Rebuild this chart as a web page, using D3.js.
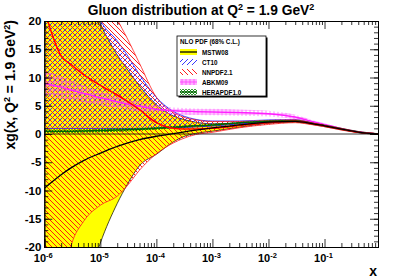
<!DOCTYPE html>
<head>
<meta charset="utf-8">
<title>Gluon</title>
<style>
  body { margin: 0; background: #fff; }
  text { font-family: "Liberation Sans", Arial, sans-serif; font-weight: bold; }
</style>
</head>
<body>
<script src="https://cdn.jsdelivr.net/npm/d3@7"></script>
<script>
// x grid shared by all bands
var xs = [1e-6, 2e-6, 3e-6, 5e-6, 1e-5, 2e-5, 3e-5, 5e-5, 1e-4, 2e-4, 3e-4, 5e-4,
          1e-3, 3e-3, 1e-2, 3e-2, 6e-2, 0.1, 0.2, 0.4, 0.9];

var mstwHi  = [50, 40, 34, 27, 19.5, 14, 11.5, 8.5, 5.2, 3.2, 2.6, 2.1, 1.8, 1.9, 2.3, 2.4, 2.0, 1.6, 1.0, 0.45, 0.05];
var mstwMid = [-9.6, -7.2, -6.0, -4.7, -3.4, -2.2, -1.6, -1.0, -0.4, 0.05, 0.35, 0.7, 1.1, 1.6, 2.1, 2.25, 1.85, 1.45, 0.88, 0.35, 0.02];
var mstwLo  = [-60, -45, -38, -29, -19.3, -12.3, -9.0, -5.6, -3.6, -1.4, -0.5, 0.1, 0.5, 1.2, 1.9, 2.1, 1.7, 1.3, 0.75, 0.3, 0.0];

var ct10Hi  = [60, 45, 38, 29, 20.2, 16.5, 14, 10.5, 6.5, 4.0, 3.2, 2.6, 2.3, 2.3, 2.5, 2.55, 2.0, 1.6, 0.95, 0.35, 0.03];
var ct10Lo  = [1.0, 1.0, 1.0, 1.0, 1.0, 1.0, 1.0, 1.0, 1.05, 1.1, 1.15, 1.25, 1.4, 1.8, 2.1, 2.25, 1.85, 1.45, 0.85, 0.3, 0.0];

var nnHi  = [80, 60, 50, 38, 27, 20.3, 17, 12.5, 6.5, 3.8, 3.0, 2.5, 2.2, 2.2, 2.4, 2.5, 2.0, 1.6, 1.0, 0.4, 0.05];
var nnMid = [22, 13.8, 12.3, 10.5, 8.6, 6.9, 5.8, 4.3, 2.0, 1.0, 0.9, 0.9, 1.0, 1.5, 2.0, 2.25, 1.85, 1.45, 0.85, 0.3, 0.0];
var nnLo  = [-45, -28, -19.8, -15.5, -12.6, -11, -9.2, -6.4, -3.5, -1.6, -0.8, -0.1, 0.3, 1.1, 1.7, 2.0, 1.65, 1.3, 0.7, 0.25, 0.0];

var abkmHi  = [11.3, 10.2, 9.5, 8.6, 7.6, 6.7, 6.2, 5.7, 5.1, 4.7, 4.6, 4.5, 4.45, 4.35, 4.1, 3.4, 2.5, 1.9, 1.05, 0.4, 0.03];
var abkmMid = [9.0, 8.3, 7.8, 7.2, 6.4, 5.7, 5.3, 4.9, 4.4, 4.1, 4.0, 3.95, 3.9, 3.8, 3.6, 3.0, 2.2, 1.7, 0.95, 0.35, 0.02];
var abkmLo  = [6.7, 6.3, 6.0, 5.6, 5.1, 4.6, 4.3, 4.0, 3.7, 3.5, 3.4, 3.35, 3.3, 3.25, 3.1, 2.6, 2.0, 1.5, 0.85, 0.3, 0.0];

var heraHi  = [0.8, 0.8, 0.8, 0.85, 0.9, 1.0, 1.05, 1.1, 1.25, 1.4, 1.5, 1.6, 1.8, 2.1, 2.35, 2.4, 1.95, 1.55, 0.95, 0.35, 0.02];
var heraMid = [0.5, 0.5, 0.5, 0.55, 0.6, 0.7, 0.75, 0.85, 1.0, 1.2, 1.3, 1.45, 1.6, 2.0, 2.25, 2.35, 1.9, 1.5, 0.9, 0.32, 0.01];
var heraLo  = [0.2, 0.2, 0.2, 0.25, 0.3, 0.4, 0.45, 0.55, 0.75, 1.0, 1.1, 1.3, 1.45, 1.85, 2.15, 2.25, 1.85, 1.45, 0.85, 0.3, 0.0];

var legendNames = ["MSTW08", "CT10", "NNPDF2.1", "ABKM09", "HERAPDF1.0"];
var xTickExp = [-6, -5, -4, -3, -2, -1];
var yTicks = [-20, -15, -10, -5, 0, 5, 10, 15, 20];

var W = 407, H = 278;
var pL = 44.3, pR = 378, pT = 21, pB = 247;

var x = d3.scaleLog().domain([1e-6, 0.9]).range([pL, pR]);
var y = d3.scaleLinear().domain([-20, 20]).range([pB, pT]);

var svg = d3.select("body").append("svg")
    .attr("width", W).attr("height", H);

var defs = svg.append("defs");
defs.append("clipPath").attr("id", "plot")
    .append("rect").attr("x", pL).attr("y", pT)
    .attr("width", pR - pL).attr("height", pB - pT);

function hatch(id, size, color, paths, width) {
    var p = defs.append("pattern").attr("id", id)
        .attr("patternUnits", "userSpaceOnUse")
        .attr("width", size).attr("height", size);
    paths.forEach(function (d) {
        p.append("path").attr("d", d).attr("stroke", color)
            .attr("stroke-width", width).attr("fill", "none");
    });
}
hatch("ctHatch", 5, "#2020ff", ["M-1,6 L6,-1", "M-1,1 L1,-1", "M4,6 L6,4"], 0.9);
hatch("nnHatch", 5, "#ff1010", ["M-1,-1 L6,6", "M4,-1 L6,1", "M-1,4 L1,6"], 0.95);
hatch("abHatch", 4, "#ff40ff", ["M0,2 L4,2", "M2,0 L2,4"], 0.8);
hatch("heHatch", 3, "#008000", ["M0,0 L3,3", "M3,0 L0,3"], 0.8);

function area(lo, hi) {
    return d3.area()
        .x(function (d, i) { return x(xs[i]); })
        .y0(function (d, i) { return y(lo[i]); })
        .y1(function (d, i) { return y(hi[i]); })
        .curve(d3.curveMonotoneX)(xs);
}
function line(vals) {
    return d3.line()
        .x(function (d, i) { return x(xs[i]); })
        .y(function (d, i) { return y(vals[i]); })
        .curve(d3.curveMonotoneX)(xs);
}

var g = svg.append("g").attr("clip-path", "url(#plot)");

// MSTW08
g.append("path").attr("d", area(mstwLo, mstwHi)).attr("fill", "#ffff00");
g.append("path").attr("d", line(mstwHi)).attr("fill", "none").attr("stroke", "#000").attr("stroke-width", 0.7);
g.append("path").attr("d", line(mstwLo)).attr("fill", "none").attr("stroke", "#000").attr("stroke-width", 0.7);

// CT10
g.append("path").attr("d", area(ct10Lo, ct10Hi)).attr("fill", "url(#ctHatch)");
g.append("path").attr("d", line(ct10Hi)).attr("fill", "none").attr("stroke", "#2020ff").attr("stroke-width", 0.8);
g.append("path").attr("d", line(ct10Lo)).attr("fill", "none").attr("stroke", "#2020ff").attr("stroke-width", 1);

// NNPDF2.1
g.append("path").attr("d", area(nnLo, nnHi)).attr("fill", "url(#nnHatch)");
g.append("path").attr("d", line(nnHi)).attr("fill", "none").attr("stroke", "#ff2020").attr("stroke-width", 0.8);
g.append("path").attr("d", line(nnLo)).attr("fill", "none").attr("stroke", "#ff2020").attr("stroke-width", 0.8);

// ABKM09
g.append("path").attr("d", area(abkmLo, abkmHi)).attr("fill", "url(#abHatch)").attr("opacity", 0.8);
g.append("path").attr("d", line(abkmMid)).attr("fill", "none").attr("stroke", "#ff20ff").attr("stroke-width", 1.5);

// HERAPDF1.0
g.append("path").attr("d", area(heraLo, heraHi)).attr("fill", "url(#heHatch)");
g.append("path").attr("d", line(heraMid)).attr("fill", "none").attr("stroke", "#006400").attr("stroke-width", 1.5);

// central lines on top
g.append("path").attr("d", line(nnMid)).attr("fill", "none").attr("stroke", "#ff0000").attr("stroke-width", 1.5);
g.append("path").attr("d", line(mstwMid)).attr("fill", "none").attr("stroke", "#000").attr("stroke-width", 1.3);

// zero line
svg.append("line").attr("x1", pL).attr("x2", pR)
    .attr("y1", y(0)).attr("y2", y(0)).attr("stroke", "#000").attr("stroke-width", 0.8);

// axes
var minorX = [];
for (var e = -6; e < 0; e++) {
    for (var k = 2; k <= 9; k++) {
        if (k * Math.pow(10, e) <= 0.9) minorX.push(k * Math.pow(10, e));
    }
}
var majorX = xTickExp.map(function (e) { return Math.pow(10, e); });
var minorY = d3.range(-20, 21, 1);

function axis(gen, scale, vals, size, tx, ty) {
    var a = svg.append("g").attr("transform", "translate(" + tx + "," + ty + ")")
        .call(gen(scale).tickValues(vals).tickSize(size).tickFormat(""));
    a.select(".domain").attr("stroke-width", 1);
    a.selectAll(".tick line").attr("stroke-width", 0.8);
    return a;
}
axis(d3.axisBottom, x, minorX, -4, 0, pB);
axis(d3.axisBottom, x, majorX, -8, 0, pB);
axis(d3.axisTop, x, minorX, -4, 0, pT);
axis(d3.axisTop, x, majorX, -8, 0, pT);
axis(d3.axisLeft, y, minorY, -4, pL, 0);
axis(d3.axisLeft, y, yTicks, -8, pL, 0);
axis(d3.axisRight, y, minorY, -4, pR, 0);
axis(d3.axisRight, y, yTicks, -8, pR, 0);

// tick labels
svg.append("g").selectAll("text").data(yTicks).join("text")
    .attr("x", pL - 3).attr("y", function (d) { return y(d) + 4; })
    .attr("text-anchor", "end").attr("font-size", 11.5)
    .text(function (d) { return d; });

var xl = svg.append("g").selectAll("text").data(xTickExp).join("text")
    .attr("x", function (d) { return x(Math.pow(10, d)) - 1; })
    .attr("y", 262).attr("text-anchor", "middle").attr("font-size", 11);
xl.append("tspan").text("10");
xl.append("tspan").attr("dy", -4.5).attr("font-size", 7.5).text(function (d) { return d; });

// titles
var t = svg.append("text").attr("x", 201).attr("y", 15).attr("text-anchor", "middle").attr("font-size", 13.8);
t.append("tspan").text("Gluon distribution at Q");
t.append("tspan").attr("dy", -5.5).attr("font-size", 9).text("2");
t.append("tspan").attr("dy", 5.5).text(" = 1.9 GeV");
t.append("tspan").attr("dy", -5.5).attr("font-size", 9).text("2");

var yt = svg.append("text").attr("transform", "translate(15,20) rotate(-90)")
    .attr("text-anchor", "end").attr("font-size", 14);
yt.append("tspan").text("xg(x, Q");
yt.append("tspan").attr("dy", -5.5).attr("font-size", 9).text("2");
yt.append("tspan").attr("dy", 5.5).text(" = 1.9 GeV");
yt.append("tspan").attr("dy", -5.5).attr("font-size", 9).text("2");
yt.append("tspan").attr("dy", 5.5).text(")");

svg.append("text").attr("x", 377).attr("y", 276).attr("text-anchor", "end")
    .attr("font-size", 14).text("x");

// legend
var lg = svg.append("g").attr("transform", "translate(177,36)");
lg.append("rect").attr("x", 1.5).attr("y", 1.5).attr("width", 89).attr("height", 60).attr("fill", "#000");
lg.append("rect").attr("width", 89).attr("height", 60).attr("fill", "#fff").attr("stroke", "#000").attr("stroke-width", 0.8);
lg.append("text").attr("x", 3).attr("y", 7.5).attr("font-size", 6.3).text("NLO PDF (68% C.L.)");
var fills = ["#ffff00", "url(#ctHatch)", "url(#nnHatch)", "url(#abHatch)", "url(#heHatch)"];
var edges = ["#000", "#2020ff", "#ff2020", "#ff40ff", "#006400"];
var rows = lg.selectAll("g.row").data(legendNames).join("g")
    .attr("transform", function (d, i) { return "translate(3," + (16 + i * 10) + ")"; });
rows.append("rect").attr("x", 0).attr("y", -3).attr("width", 17).attr("height", 6)
    .attr("fill", function (d, i) { return fills[i]; });
rows.append("line").attr("x1", 0).attr("x2", 17).attr("y1", 0).attr("y2", 0)
    .attr("stroke", function (d, i) { return i == 0 || i == 3 || i == 4 ? edges[i] : "none"; })
    .attr("stroke-width", 1.3);
rows.append("text").attr("x", 22).attr("y", 2.5).attr("font-size", 6.3)
    .text(function (d) { return d; });
</script>
</body>
